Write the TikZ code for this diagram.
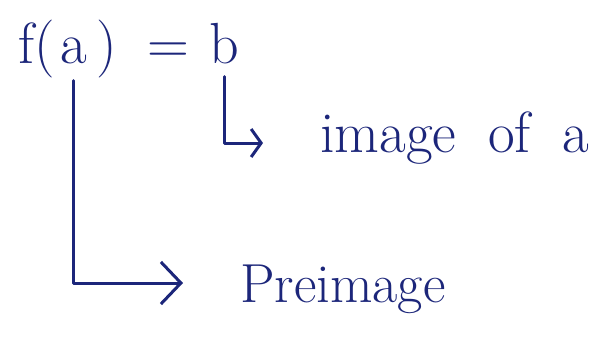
\documentclass[tikz,border=0pt]{standalone}
\usepackage{fontspec}
\setmainfont{Latin Modern Roman}
\usepackage{xcolor}
\usetikzlibrary{arrows.meta,positioning,calc}

\definecolor{ink}{RGB}{28,38,122}

\begin{document}
\begin{tikzpicture}[x=1pt, y=-1pt, >=latex, ink,
    hand/.style={line width=3pt, line cap=round, line join=round},
    word/.style={inner sep=0pt, anchor=base west, ink}]
  \useasboundingbox (0,0) rectangle (613,349);
  % f(a) = b
  \node[word, font=\fontsize{58}{60}\selectfont] (fl) at (18,63) {f(};
  \node[word, font=\fontsize{58}{60}\selectfont, xshift=5pt] (a) at (fl.base east) {a};
  \node[word, font=\fontsize{58}{60}\selectfont, xshift=9pt] (rp) at (a.base east) {)};
  \node[word, font=\fontsize{58}{60}\selectfont, xshift=30pt] (eq) at (rp.base east) {=};
  \node[word, font=\fontsize{58}{60}\selectfont, xshift=20pt] (b) at (eq.base east) {b};
  % labels
  \node[word, font=\fontsize{58}{60}\selectfont] (img) at (320,152) {image\hspace{32pt}of\hspace{32pt}a};
  \node[word, font=\fontsize{55}{60}\selectfont] (pre) at (240,302) {Preimage};
  % arrow ends
  \coordinate (imgtip) at (263,143);
  \coordinate (pretip) at (183,283);
  \draw[hand, -{Straight Barb[length=10pt,width=28pt]}, shorten <=13pt] (b.south) |- (imgtip);
  \draw[hand, -{Straight Barb[length=20pt,width=42pt]}, shorten <=17pt] (a.south) |- (pretip);
\end{tikzpicture}
\end{document}
